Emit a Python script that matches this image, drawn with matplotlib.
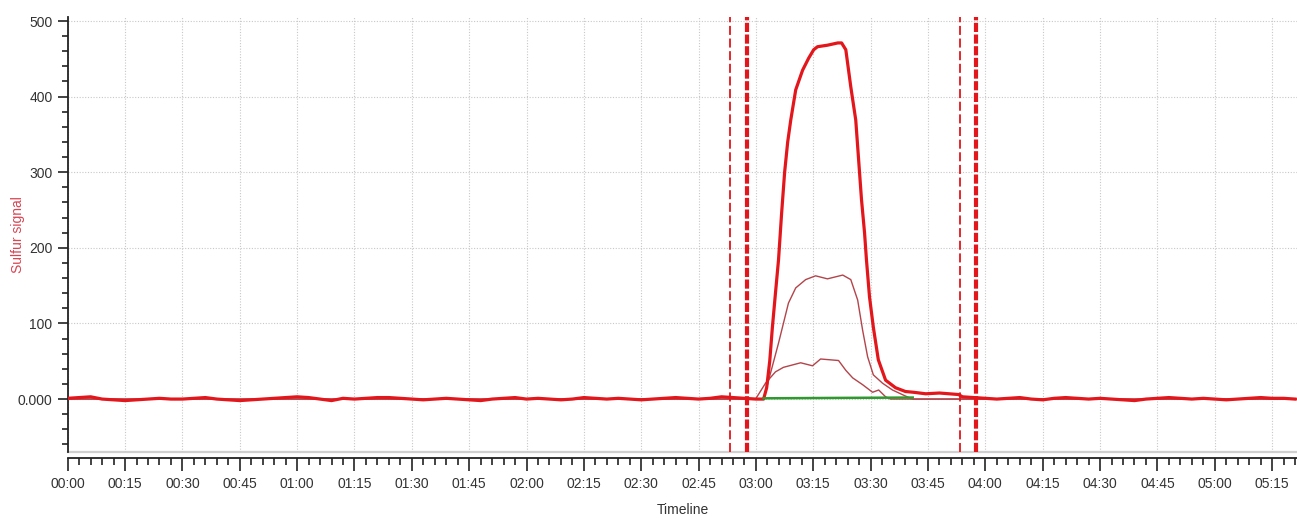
import numpy as np
import matplotlib
matplotlib.use("Agg")
import matplotlib.pyplot as plt
from matplotlib.ticker import MultipleLocator, FuncFormatter

# ---------------- data (time in seconds, signal in counts) ----------------
base_pre = [1, 2, 3, 0, -1, -2, -1, 0, 1, 0,
            0, 1, 2, 0, -1, -2, -1, 0, 1, 2,
            3, 2, 0, -2, 1, 0, 1, 2, 2, 1,
            0, -1, 0, 1, 0, -1, -2, 0, 1, 2,
            0, 1, 0, -1, 0, 2, 1, 0, 1, 0,
            -1, 0, 1, 2, 1, 0, 1, 3, 2, 1,
            0]                                   # t = 0, 3, ... 180
base_post = [2, 1, 0, 1, 2, 0, -1, 1, 2, 1,
             0, 1, 0, -1, -2, 0, 1, 2, 1, 0,
             1, 0, -1, 0, 1, 2, 1, 1, 0]        # t = 237, 240, ... 321

main_t = [182.0, 182.8, 183.6, 184.3, 185.1, 185.9, 186.7, 187.5, 188.3, 189.1,
          190.4, 192.2, 193.8, 195.1, 196.1, 198.7, 201.4, 202.4, 203.5, 204.8,
          206.1, 206.8, 207.6, 208.4, 208.9, 209.7, 210.7, 212.0, 213.9, 216.5,
          219.1, 221.2, 224.4, 228.0, 233.0, 234.0]
main_v = [0, 15, 50, 95, 140, 184, 245, 300, 340, 369,
          409, 435, 451, 462, 466, 468, 471, 471, 462, 413,
          369, 320, 264, 220, 184, 135, 95, 52, 25, 15,
          10, 9, 7, 8, 6, 3]

mid_t = [0.0, 182.0, 185.9, 188.5, 190.4, 193.0, 195.6, 198.7, 202.7, 204.8,
         206.6, 207.9, 209.2, 210.7, 213.1, 215.7, 219.1, 221.0, 321.5]
mid_v = [0, 0, 74, 127, 147, 158, 163, 159, 164, 158,
         131, 91, 56, 32, 21, 12, 4, 0, 0]

low_t = [0.0, 179.9, 182.5, 185.1, 187.2, 191.7, 194.8, 196.9, 201.6, 203.5,
         205.3, 207.9, 210.5, 212.1, 213.9, 215.2, 321.5]
low_v = [0, 0, 21, 36, 42, 48, 44, 53, 51, 38,
         28, 19, 9, 12, 3, 0, 0]

green_t = [182.0, 200.0, 221.0]
green_v = [1.0, 1.5, 2.0]

marker_thin = [173.1, 233.3]
marker_thick = [177.6, 237.5]

# ---------------- assemble main trace ----------------
t_main = list(np.arange(len(base_pre)) * 3.0) + main_t + list(237.0 + np.arange(len(base_post)) * 3.0)
v_main = base_pre + main_v + base_post

plt.rcParams['font.family'] = ['Liberation Sans', 'DejaVu Sans']

W, H = 1297, 523
fig = plt.figure(figsize=(W / 100, H / 100), dpi=100)
ax = fig.add_axes([67.7 / W, 71 / H, 1 - 67.7 / W, (452 - 16.7) / H])

XMAX = 321.5
YMIN, YMAX = -70, 505.7
ax.set_xlim(0, XMAX)
ax.set_ylim(YMIN, YMAX)

red = '#e3161b'
thin_red = '#b2444a'

ax.plot(low_t, low_v, color=thin_red, lw=1.0, zorder=3)
ax.plot(mid_t, mid_v, color=thin_red, lw=1.0, zorder=3)
ax.plot(t_main, v_main, color=red, lw=2.3, zorder=4, solid_joinstyle='round')
ax.plot(green_t, green_v, color='#2e9a2e', lw=1.8, zorder=5)

for x in marker_thin:
    ax.axvline(x, color=red, lw=1.3, ls=(0, (5, 2)), zorder=6)
for x in marker_thick:
    ax.axvline(x, color=red, lw=3.0, ls=(0, (2.2, 0.6)), zorder=6)

# grid
ax.xaxis.set_major_locator(MultipleLocator(15))
ax.xaxis.set_minor_locator(MultipleLocator(3))
ax.yaxis.set_major_locator(MultipleLocator(100))
ax.yaxis.set_minor_locator(MultipleLocator(20))
ax.grid(True, which='major', color='#c8c8c8', ls=(0, (1, 1.5)), lw=0.8, zorder=0)
ax.axhline(YMIN, color='#d0d0d0', lw=1.6, zorder=1, clip_on=False)

ax.xaxis.set_major_formatter(FuncFormatter(lambda s, p: f"{int(round(s)) // 60:02d}:{int(round(s)) % 60:02d}"))
ax.yaxis.set_major_formatter(FuncFormatter(lambda v, p: "0.000" if abs(v) < 1e-9 else f"{int(round(v))}"))

for side in ['top', 'right']:
    ax.spines[side].set_visible(False)
ax.spines['bottom'].set_position(('outward', 4))
ax.spines['bottom'].set_color('#222222')
ax.spines['left'].set_color('#222222')
ax.spines['bottom'].set_linewidth(1.3)
ax.spines['left'].set_linewidth(1.3)

ax.tick_params(axis='x', which='major', length=9, width=1.2, color='#222222',
               labelsize=10, labelcolor='#333333', pad=5)
ax.tick_params(axis='x', which='minor', length=5, width=1.2, color='#222222')
ax.tick_params(axis='y', which='major', length=7, width=1.2, color='#222222',
               labelsize=10, labelcolor='#333333', pad=4)
ax.tick_params(axis='y', which='minor', length=4, width=1.2, color='#222222')

fig.text(18 / W, 1 - 235 / H, 'Sulfur signal', rotation=90, color='#d94452',
         fontsize=10, ha='center', va='center')
fig.text(683 / W, 1 - 510 / H, 'Timeline', color='#333333',
         fontsize=10, ha='center', va='center')

fig.savefig('out.png', dpi=100)
